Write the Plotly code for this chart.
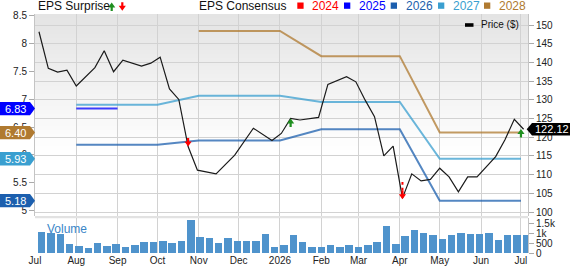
import plotly.graph_objects as go
import datetime as _dt

# ---------------- data ----------------
price_dates = ["2025-07-04", "2025-07-11", "2025-07-18", "2025-07-25", "2025-08-01",
               "2025-08-15", "2025-08-22", "2025-08-29", "2025-09-05", "2025-09-19",
               "2025-09-26", "2025-10-03", "2025-10-10", "2025-10-17", "2025-10-24",
               "2025-10-31", "2025-11-14", "2025-11-28", "2025-12-12", "2025-12-26",
               "2026-01-02", "2026-01-09", "2026-01-16", "2026-01-30", "2026-02-06",
               "2026-02-20", "2026-02-27", "2026-03-06", "2026-03-13", "2026-03-20",
               "2026-03-27", "2026-04-03", "2026-04-10", "2026-04-17", "2026-04-24",
               "2026-05-01", "2026-05-08", "2026-05-15", "2026-05-22", "2026-05-29",
               "2026-06-12", "2026-06-19", "2026-06-26", "2026-07-03"]
price_vals = [148.2, 138.4, 137.4, 137.9, 133.7,
              138.6, 143.1, 137.5, 140.6, 139.0,
              139.8, 141.4, 132.9, 130.1, 117.5,
              111.2, 110.2, 115.2, 122.4, 119.1,
              121.0, 125.0, 124.6, 125.3, 134.1,
              136.2, 134.8, 129.9, 125.5, 115.0,
              117.6, 103.7, 110.2, 108.3, 108.7,
              111.7, 109.4, 105.4, 109.4, 109.4,
              114.8, 119.3, 124.8, 122.12]

eps_dates = ["2025-08-01", "2025-09-01", "2025-10-01", "2025-11-01", "2025-12-01", "2026-01-01",
             "2026-02-01", "2026-03-01", "2026-04-01", "2026-05-01", "2026-06-01", "2026-07-01"]
eps_2025 = [6.83, 6.83, None, None, None, None, None, None, None, None, None, None]
eps_2026 = [6.18, 6.18, 6.18, 6.26, 6.26, 6.26, 6.46, 6.46, 6.46, 5.18, 5.18, 5.18]
eps_2027 = [6.90, 6.90, 6.90, 7.06, 7.06, 7.06, 6.95, 6.95, 6.95, 5.93, 5.93, 5.93]
eps_2028 = [None, None, None, 8.22, 8.22, 8.22, 7.77, 7.77, 7.77, 6.40, 6.40, 6.40]

vol_start = "2025-07-06"
vol_vals = [1050, 1000, 930, 420, 355, 255, 470, 355, 420, 305,
            405, 520, 520, 610, 505, 595, 1660, 810, 725, 470,
            760, 610, 610, 595, 965, 290, 390, 880, 560, 270,
            305, 405, 270, 390, 305, 370, 560, 1335, 440, 865,
            1150, 980, 900, 710, 915, 1000, 950, 950, 1015, 660,
            915, 915, 915]

surprise_dates = ["2025-10-24", "2026-01-09", "2026-04-03", "2026-07-01"]
surprise_prices = [117.5, 125.0, 103.4, 122.2]
surprise_dir = [-1, 1, -1, 1]

month_ticks = ["2025-07-01", "2025-08-01", "2025-09-01", "2025-10-01", "2025-11-01", "2025-12-01",
               "2026-01-01", "2026-02-01", "2026-03-01", "2026-04-01", "2026-05-01", "2026-06-01",
               "2026-07-01"]
month_labels = ["Jul", "Aug", "Sep", "Oct", "Nov", "Dec", "2026", "Feb", "Mar", "Apr", "May", "Jun", "Jul"]

price_ticks = [100, 105, 110, 115, 120, 125, 130, 135, 140, 145, 150]
eps_ticks = [5, 5.5, 6, 6.5, 7, 7.5, 8, 8.5]

# ---------------- style ----------------
C2024 = "#ff0000"
C2025 = "#0000ff"
C2026 = "#1c5fae"
C2027 = "#3a9fd0"
C2028 = "#b07a30"
CUP = "#1f8f1f"
GRID = "#d2d2d2"
FONT = "Liberation Sans, Arial, sans-serif"

W, H = 573, 266
ML, MR, MT, MB = 35, 45, 14, 13
PW = W - ML - MR
PH = H - MT - MB


def px_x(px):
    return (px - ML) / PW


def px_y(py):
    return (H - MB - py) / PH


def arrow_path(direction):
    # tip at (0,0); pixel offsets, y positive upwards
    s = 1 if direction > 0 else -1
    pts = [(0, 0), (3.6, -5 * s), (1.1, -5 * s), (1.1, -8.5 * s), (-1.1, -8.5 * s),
           (-1.1, -5 * s), (-3.6, -5 * s)]
    return "M " + " L ".join(f"{x},{y}" for x, y in pts) + " Z"


price_dom = [px_y(216), 1]
vol_dom = [0, px_y(218.3)]

d0 = _dt.date.fromisoformat(vol_start)
vol_dates = [(d0 + _dt.timedelta(days=7 * i)).isoformat() for i in range(len(vol_vals))]

fig = go.Figure()

# volume
fig.add_trace(go.Bar(x=vol_dates, y=vol_vals, xaxis="x2", yaxis="y3",
                     marker=dict(color="#4f93cc", line=dict(width=0)),
                     width=5.6 * 86400000, hoverinfo="skip"))

# eps consensus lines
for vals, col in [(eps_2025, C2025), (eps_2026, C2026), (eps_2027, C2027), (eps_2028, C2028)]:
    fig.add_trace(go.Scatter(x=eps_dates, y=vals, mode="lines", yaxis="y", xaxis="x",
                             line=dict(color=col, width=2), opacity=0.75,
                             connectgaps=False, hoverinfo="skip"))

# price line
fig.add_trace(go.Scatter(x=price_dates, y=price_vals, mode="lines", yaxis="y2", xaxis="x",
                         line=dict(color="#1a1a1a", width=1.2), hoverinfo="skip"))

# dotted stem for the april miss
i_apr = 2
fig.add_trace(go.Scatter(x=[surprise_dates[i_apr]] * 2,
                         y=[surprise_prices[i_apr] + 2.3, surprise_prices[i_apr] + 4.6],
                         mode="lines", yaxis="y2", xaxis="x",
                         line=dict(color=C2024, width=2, dash="dot"), hoverinfo="skip"))

annotations = []
shapes = []

# surprise arrows (tip on the price line)
for d, p, s in zip(surprise_dates, surprise_prices, surprise_dir):
    col = CUP if s > 0 else C2024
    shapes.append(dict(type="path", xref="x", yref="y2", xsizemode="pixel", ysizemode="pixel",
                       xanchor=d, yanchor=p, path=arrow_path(s), fillcolor=col,
                       line=dict(width=0), layer="above"))

# gradient background of price panel
N = 34
top, bot = 14, 150
for i in range(N):
    y0 = top + (bot - top) * i / N
    y1 = top + (bot - top) * (i + 1) / N
    c = int(228 + (255 - 228) * (i + 0.5) / N)
    shapes.append(dict(type="rect", xref="paper", yref="paper", x0=0, x1=1,
                       y0=px_y(y1), y1=px_y(y0), fillcolor=f"rgb({c},{c},{c})",
                       line=dict(width=0), layer="below"))

# separator between panels
shapes.append(dict(type="rect", xref="paper", yref="paper", x0=0, x1=1,
                   y0=px_y(218.3), y1=px_y(216), fillcolor="#e2e2e2",
                   line=dict(width=0), layer="below"))

# left EPS value tags
hh = 6.7 / 55.8
for v, col in [(eps_2025[1], C2025), (eps_2028[-1], C2028), (eps_2027[-1], C2027), (eps_2026[-1], C2026)]:
    x0, x1, xt = px_x(0), px_x(30), px_x(35)
    path = f"M {x0},{v - hh} L {x1},{v - hh} L {xt},{v} L {x1},{v + hh} L {x0},{v + hh} Z"
    shapes.append(dict(type="path", xref="paper", yref="y", path=path,
                       fillcolor=col, line=dict(width=0), layer="above"))
    annotations.append(dict(x=px_x(15.5), y=v, xref="paper", yref="y", text=f"{v:.2f}",
                            showarrow=False, font=dict(color="white", size=11, family=FONT),
                            xanchor="center", yanchor="middle"))

# right price tag
last = price_vals[-1]
ph = 6.2 / 3.74
xt, x1, x2 = px_x(526.7), px_x(532), px_x(570)
path = f"M {xt},{last} L {x1},{last - ph} L {x2},{last - ph} L {x2},{last + ph} L {x1},{last + ph} Z"
shapes.append(dict(type="path", xref="paper", yref="y2", path=path,
                   fillcolor="#000000", line=dict(width=0), layer="above"))
annotations.append(dict(x=px_x(551.5), y=last, xref="paper", yref="y2", text=f"{last:.2f}",
                        showarrow=False, font=dict(color="white", size=11, family=FONT),
                        xanchor="center", yanchor="middle"))

# Price legend inside plot
shapes.append(dict(type="rect", xref="paper", yref="paper", x0=px_x(465), x1=px_x(473.5),
                   y0=px_y(26.8), y1=px_y(23.2), fillcolor="#000", line=dict(width=0)))
annotations.append(dict(x=px_x(478.5), y=px_y(25), xref="paper", yref="paper", text="Price ($)",
                        showarrow=False, font=dict(color="#111", size=10, family=FONT),
                        xanchor="left", yanchor="middle"))

# top legend
ty = px_y(6.2)
annotations.append(dict(x=px_x(35.5), y=ty, xref="paper", yref="paper", text="EPS Surprise",
                        showarrow=False, font=dict(color="#111", size=12, family=FONT),
                        xanchor="left", yanchor="middle"))
shapes.append(dict(type="path", xref="paper", yref="paper", xsizemode="pixel", ysizemode="pixel",
                   xanchor=px_x(111.7), yanchor=px_y(2.5), path=arrow_path(1),
                   fillcolor=CUP, line=dict(width=0)))
shapes.append(dict(type="path", xref="paper", yref="paper", xsizemode="pixel", ysizemode="pixel",
                   xanchor=px_x(122.3), yanchor=px_y(10.8), path=arrow_path(-1),
                   fillcolor=C2024, line=dict(width=0)))
annotations.append(dict(x=px_x(196.5), y=ty, xref="paper", yref="paper", text="EPS Consensus",
                        showarrow=False, font=dict(color="#111", size=12, family=FONT),
                        xanchor="left", yanchor="middle"))
legend_years = ["2024", "2025", "2026", "2027", "2028"]
legend_cols = [C2024, C2025, C2026, C2027, C2028]
sq_x = [297.3, 344, 390.7, 438, 484]
for yr, col, sx in zip(legend_years, legend_cols, sq_x):
    shapes.append(dict(type="rect", xref="paper", yref="paper", x0=px_x(sx), x1=px_x(sx + 6.3),
                       y0=px_y(8.8), y1=px_y(2.5), fillcolor=col, line=dict(width=0)))
    annotations.append(dict(x=px_x(sx + 12.8), y=ty, xref="paper", yref="paper", text=yr,
                            showarrow=False, font=dict(color=col, size=12, family=FONT),
                            xanchor="left", yanchor="middle"))

# volume label
annotations.append(dict(x=px_x(45), y=px_y(229.5), xref="paper", yref="paper", text="Volume",
                        showarrow=False, font=dict(color="#3a86c8", size=12, family=FONT),
                        xanchor="left", yanchor="middle"))

xrange = ["2025-07-01", "2026-07-06 07:00"]
tickfont = dict(size=10, color="#222", family=FONT)

fig.update_layout(
    template="none",
    width=W, height=H,
    margin=dict(l=ML, r=MR, t=MT, b=MB, pad=0, autoexpand=False),
    paper_bgcolor="white", plot_bgcolor="white",
    showlegend=False, bargap=0,
    font=dict(family=FONT, size=10, color="#222"),
    xaxis=dict(domain=[0, 1], anchor="y", range=xrange, type="date", automargin=False,
               tickvals=month_ticks, showticklabels=False, ticks="",
               showgrid=True, gridcolor=GRID, gridwidth=1, zeroline=False, showline=False),
    xaxis2=dict(domain=[0, 1], anchor="y3", range=xrange, type="date", matches="x",
                automargin=False, tickvals=month_ticks, ticktext=month_labels, ticks="",
                tickfont=tickfont, showgrid=True, gridcolor=GRID, gridwidth=1,
                zeroline=False, showline=False),
    yaxis=dict(domain=price_dom, anchor="x", side="left", range=[4.905, 8.525], automargin=False,
               tickvals=eps_ticks, ticktext=[f"{t:g}" for t in eps_ticks],
               ticks="outside", ticklen=5, tickcolor="#aaa", tickfont=tickfont,
               showgrid=False, zeroline=False, showline=True, linecolor="#c4c4c4"),
    yaxis2=dict(domain=price_dom, anchor="x", overlaying="y", side="right", automargin=False,
                range=[98.93, 152.94], tickvals=price_ticks,
                ticks="outside", ticklen=5, tickcolor="#aaa", tickfont=tickfont,
                showgrid=True, gridcolor=GRID, gridwidth=1, zeroline=False,
                showline=True, linecolor="#c4c4c4"),
    yaxis3=dict(domain=vol_dom, anchor="x2", side="right", range=[0, 1760], automargin=False,
                tickvals=[0, 500, 1000, 1500], ticktext=["0", "500", "1k", "1.5k"],
                ticks="outside", ticklen=5, tickcolor="#aaa", tickfont=tickfont,
                showgrid=False, zeroline=False, showline=True, linecolor="#c4c4c4"),
    shapes=shapes,
    annotations=annotations,
)

fig.write_html("out.html")
